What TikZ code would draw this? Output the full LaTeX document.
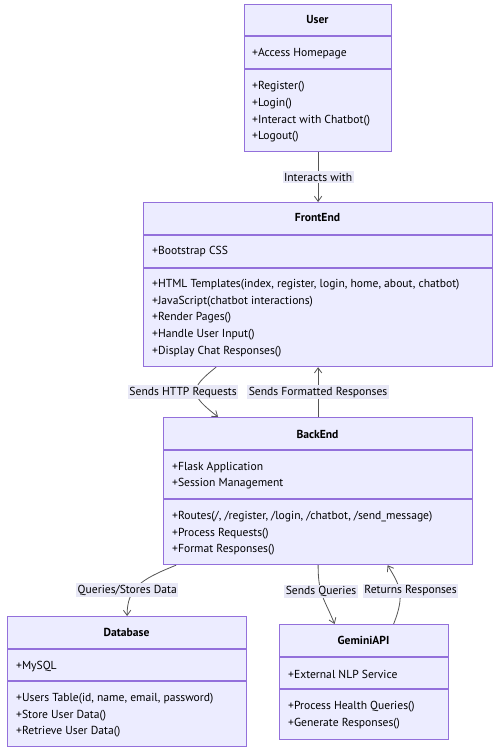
\documentclass[tikz,border=0pt]{standalone}
\usepackage{fontspec}
\setmainfont{PT Sans}
\usetikzlibrary{arrows.meta}
\definecolor{clsfill}{HTML}{ECECFF}
\definecolor{clsline}{HTML}{9370DB}
\definecolor{edgecol}{HTML}{555555}
\definecolor{lblfill}{HTML}{E8E8F6}

\begin{document}
\begin{tikzpicture}[
x=1pt, y=-1pt,
cls/.style={draw=clsline, fill=clsfill, line width=1.2pt, inner sep=0pt, anchor=north west},
sep/.style={draw=clsline, line width=1.2pt},
ttl/.style={font=\fontsize{11.6}{13}\selectfont\bfseries},
mem/.style={anchor=west, align=left, inner sep=0pt, yshift=-1pt, font=\fontsize{11.6}{16.6}\selectfont},
lbl/.style={fill=lblfill, inner sep=1.5pt, font=\fontsize{11.6}{13}\selectfont},
arr/.style={-{Straight Barb[length=1.8mm, width=2.6mm]}, draw=edgecol, line width=0.8pt}
]
\fill[white] (0,0) rectangle (502,756);
\useasboundingbox (0,0) rectangle (502,756);

% User
\node[cls, minimum width=147pt, minimum height=147pt] (user) at (244,4) {};
\draw[sep] (244,36) -- (391,36);
\draw[sep] (244,69) -- (391,69);
\node[ttl] (userT) at (317.5,20) {User};
\node[mem] (userA) at (252,53) {+Access Homepage};
\node[mem] (userM) at (252,111) {+Register()\\+Login()\\+Interact with Chatbot()\\+Logout()};

% FrontEnd
\node[cls, minimum width=349pt, minimum height=164pt] (front) at (143,202) {};
\draw[sep] (143,235) -- (492,235);
\draw[sep] (143,268) -- (492,268);
\node[ttl] (frontT) at (317.5,218) {FrontEnd};
\node[mem] (frontA) at (152,251) {+Bootstrap CSS};
\node[mem] (frontM) at (152,317) {+HTML Templates(index, register, login, home, about, chatbot)\\+JavaScript(chatbot interactions)\\+Render Pages()\\+Handle User Input()\\+Display Chat Responses()};

% BackEnd
\node[cls, minimum width=309pt, minimum height=147pt] (back) at (163,417) {};
\draw[sep] (163,450) -- (472,450);
\draw[sep] (163,499) -- (472,499);
\node[ttl] (backT) at (317.5,434) {BackEnd};
\node[mem] (backA) at (172,474.5) {+Flask Application\\+Session Management};
\node[mem] (backM) at (172,532.5) {+Routes(/, /register, /login, /chatbot, /send\_message)\\+Process Requests()\\+Format Responses()};

% Database
\node[cls, minimum width=239pt, minimum height=130pt] (db) at (7,616) {};
\draw[sep] (7,649) -- (246,649);
\draw[sep] (7,681) -- (246,681);
\node[ttl] (dbT) at (126.5,632) {Database};
\node[mem] (dbA) at (16,666) {+MySQL};
\node[mem] (dbM) at (16,714.5) {+Users Table(id, name, email, password)\\+Store User Data()\\+Retrieve User Data()};

% GeminiAPI
\node[cls, minimum width=169pt, minimum height=115pt] (gemini) at (279,624) {};
\draw[sep] (279,657) -- (448,657);
\draw[sep] (279,689) -- (448,689);
\node[ttl] (geminiT) at (363.5,640) {GeminiAPI};
\node[mem] (geminiA) at (288,673) {+External NLP Service};
\node[mem] (geminiM) at (288,714) {+Process Health Queries()\\+Generate Responses()};

% relations
\draw[arr] (user.south) -- node[lbl] {Interacts with} (front.north);
\draw[arr] ([xshift=-102pt]front.south) .. controls +(-28,22) and +(-28,-22) .. ([xshift=-100pt]back.north)
  node[lbl, pos=0.5, xshift=-13pt] {Sends HTTP Requests};
\draw[arr] (back.north) -- node[lbl] {Sends Formatted Responses} (front.south);
\draw[arr] ([xshift=-142pt]back.south) .. controls +(-35,14) and +(0,-28) .. (db.north)
  node[lbl, pos=0.6, xshift=-7pt] {Queries/Stores Data};
\draw[arr] (back.south) .. controls +(0,30) and +(-10,-25) .. ([xshift=-29.5pt]gemini.north)
  node[lbl, pos=0.4] {Sends Queries};
\draw[arr] ([xshift=29.5pt]gemini.north) .. controls +(12,-30) and +(12,20) .. ([xshift=69.5pt]back.south)
  node[lbl, pos=0.5, xshift=11pt] {Returns Responses};
\end{tikzpicture}
\end{document}
